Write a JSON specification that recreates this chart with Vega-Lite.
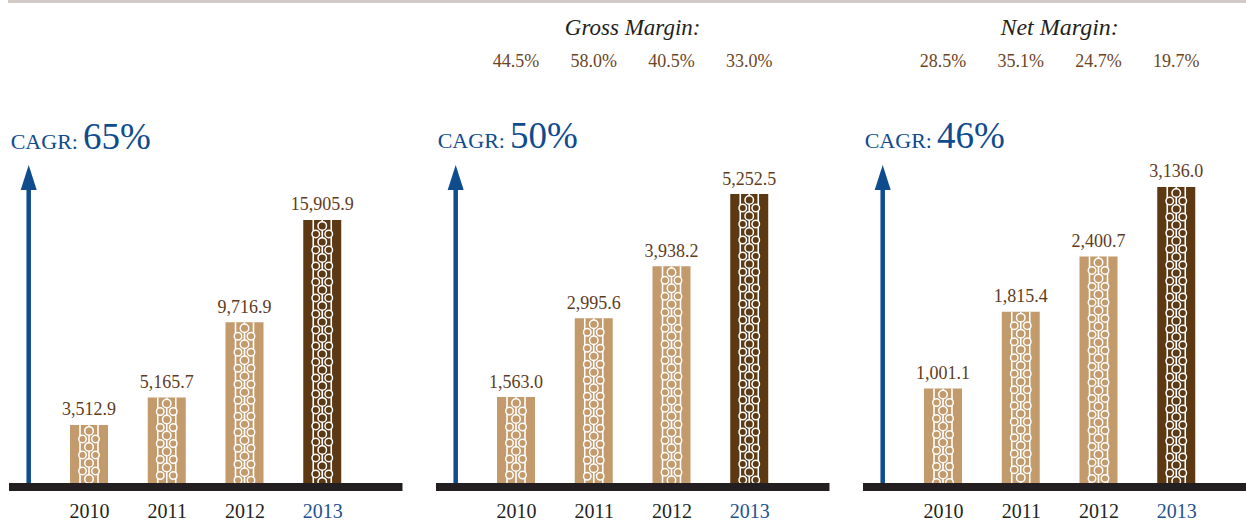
{
  "$schema": "https://vega.github.io/schema/vega-lite/v6.json",
  "padding": 0,
  "spacing": 0,
  "bounds": "flush",
  "datasets": {
    "fin": [
      {"year": 2010, "revenue": 3512.9, "gross": 1563.0, "net": 1001.1, "grossMargin": 0.445, "netMargin": 0.285},
      {"year": 2011, "revenue": 5165.7, "gross": 2995.6, "net": 1815.4, "grossMargin": 0.580, "netMargin": 0.351},
      {"year": 2012, "revenue": 9716.9, "gross": 3938.2, "net": 2400.7, "grossMargin": 0.405, "netMargin": 0.247},
      {"year": 2013, "revenue": 15905.9, "gross": 5252.5, "net": 3136.0, "grossMargin": 0.330, "netMargin": 0.197}
    ]
  },
  "hconcat": [
    {
      "width": 427,
      "height": 483,
      "data": {"name": "fin"},
      "layer": [
        {
          "mark": {"type": "bar", "size": 38},
          "encoding": {
            "x": {"field": "year", "type": "quantitative", "scale": {"domain": [2008.8553, 2014.3473], "nice": false, "zero": false, "padding": 0},
              "axis": {"values": [2010, 2011, 2012, 2013], "format": "d", "title": null, "domain": false, "ticks": false, "tickSize": 0, "grid": false, "labelFont": "Liberation Serif", "labelFontSize": 20, "labelPadding": 34, "labelBaseline": "alphabetic", "labelOverlap": false, "labelFlush": false,
                "labelColor": {"condition": {"test": "datum.value == 2013", "value": "#24528f"}, "value": "#231f20"}}},
            "y": {"field": "revenue", "type": "quantitative", "scale": {"domain": [0, 29200], "nice": false}, "axis": null},
            "color": {"field": "year", "type": "ordinal", "scale": {"domain": [2010, 2011, 2012, 2013], "range": ["#c29a6b", "#c29a6b", "#c29a6b", "#5c3813"]}, "legend": null}
          }
        },
        {"mark": {"type": "rule", "color": "white", "strokeWidth": 1.6, "xOffset": -9}, "encoding": {"x": {"field": "year", "type": "quantitative"}, "y": {"field": "revenue", "type": "quantitative"}, "y2": {"datum": 0}}},
        {"mark": {"type": "rule", "color": "white", "strokeWidth": 1.6, "xOffset": 9}, "encoding": {"x": {"field": "year", "type": "quantitative"}, "y": {"field": "revenue", "type": "quantitative"}, "y2": {"datum": 0}}},
        {"mark": {"type": "rule", "color": "white", "strokeWidth": 1.6}, "encoding": {"x": {"field": "year", "type": "quantitative"}, "y": {"field": "revenue", "type": "quantitative"}, "y2": {"datum": 0}}},
        {"mark": {"type": "rule", "color": "white", "strokeWidth": 10, "strokeCap": "round", "strokeDash": [0, 16], "strokeDashOffset": 10}, "encoding": {"x": {"field": "year", "type": "quantitative"}, "y": {"field": "revenue", "type": "quantitative"}, "y2": {"datum": 0}}},
        {"mark": {"type": "rule", "color": "white", "strokeWidth": 9, "strokeCap": "round", "strokeDash": [0, 16], "strokeDashOffset": 2, "xOffset": -6.5}, "encoding": {"x": {"field": "year", "type": "quantitative"}, "y": {"field": "revenue", "type": "quantitative"}, "y2": {"datum": 0}}},
        {"mark": {"type": "rule", "color": "white", "strokeWidth": 9, "strokeCap": "round", "strokeDash": [0, 16], "strokeDashOffset": 2, "xOffset": 6.5}, "encoding": {"x": {"field": "year", "type": "quantitative"}, "y": {"field": "revenue", "type": "quantitative"}, "y2": {"datum": 0}}},
        {"mark": {"type": "rule", "strokeWidth": 7, "strokeCap": "round", "strokeDash": [0, 16], "strokeDashOffset": 10}, "encoding": {"x": {"field": "year", "type": "quantitative"}, "y": {"field": "revenue", "type": "quantitative"}, "y2": {"datum": 0}, "color": {"field": "year", "type": "ordinal", "legend": null}}},
        {"mark": {"type": "rule", "strokeWidth": 6, "strokeCap": "round", "strokeDash": [0, 16], "strokeDashOffset": 2, "xOffset": -6.5}, "encoding": {"x": {"field": "year", "type": "quantitative"}, "y": {"field": "revenue", "type": "quantitative"}, "y2": {"datum": 0}, "color": {"field": "year", "type": "ordinal", "legend": null}}},
        {"mark": {"type": "rule", "strokeWidth": 6, "strokeCap": "round", "strokeDash": [0, 16], "strokeDashOffset": 2, "xOffset": 6.5}, "encoding": {"x": {"field": "year", "type": "quantitative"}, "y": {"field": "revenue", "type": "quantitative"}, "y2": {"datum": 0}, "color": {"field": "year", "type": "ordinal", "legend": null}}},
        {
          "mark": {"type": "text", "font": "Liberation Serif", "fontSize": 18, "color": "#5e3c1e", "baseline": "alphabetic", "dy": -9.5},
          "encoding": {"x": {"field": "year", "type": "quantitative"}, "y": {"field": "revenue", "type": "quantitative"}, "text": {"field": "revenue", "type": "quantitative", "format": ",.1f"}}
        },
        {
          "data": {"values": [{"x1": 2008.9582, "x2": 2014.3473, "y": 29200}]},
          "mark": {"type": "rule", "color": "#d1cac6", "strokeWidth": 3, "yOffset": 1.5},
          "encoding": {"x": {"field": "x1", "type": "quantitative"}, "x2": {"field": "x2"}, "y": {"field": "y", "type": "quantitative"}}
        },
        {
          "data": {"values": [{"x1": 2008.9711, "x2": 2014.0321, "y": 0}]},
          "mark": {"type": "rule", "color": "#231f20", "strokeWidth": 8, "yOffset": 4},
          "encoding": {"x": {"field": "x1", "type": "quantitative"}, "x2": {"field": "x2"}, "y": {"field": "y", "type": "quantitative"}}
        },
        {
          "data": {"values": [{"x": 2009.2244, "y1": 0, "y2": 18137}]},
          "mark": {"type": "rule", "color": "#0f4c8e", "strokeWidth": 4.5},
          "encoding": {"x": {"field": "x", "type": "quantitative"}, "y": {"field": "y1", "type": "quantitative"}, "y2": {"field": "y2"}}
        },
        {
          "data": {"values": [{"x": 2009.2244, "y": 18469}]},
          "mark": {"type": "point", "shape": "M0,-1L0.64,1L-0.64,1Z", "filled": true, "color": "#0f4c8e", "opacity": 1, "size": 625, "strokeWidth": 0},
          "encoding": {"x": {"field": "x", "type": "quantitative"}, "y": {"field": "y", "type": "quantitative"}}
        },
        {
          "data": {"values": [{"x": 2008.9929, "y": 20222, "label": "CAGR:"}]},
          "mark": {"type": "text", "font": "Liberation Serif", "fontSize": 22, "color": "#0f4c8e", "align": "left", "baseline": "alphabetic"},
          "encoding": {"x": {"field": "x", "type": "quantitative"}, "y": {"field": "y", "type": "quantitative"}, "text": {"field": "label"}}
        },
        {
          "data": {"values": [{"x": 2009.9228, "y": 20222, "label": "65%"}]},
          "mark": {"type": "text", "font": "Liberation Serif", "fontSize": 37, "color": "#0f4c8e", "align": "left", "baseline": "alphabetic"},
          "encoding": {"x": {"field": "x", "type": "quantitative"}, "y": {"field": "y", "type": "quantitative"}, "text": {"field": "label"}}
        }
      ]
    },
    {
      "width": 427,
      "height": 483,
      "data": {"name": "fin"},
      "layer": [
        {
          "mark": {"type": "bar", "size": 38},
          "encoding": {
            "x": {"field": "year", "type": "quantitative", "scale": {"domain": [2008.8553, 2014.3473], "nice": false, "zero": false, "padding": 0},
              "axis": {"values": [2010, 2011, 2012, 2013], "format": "d", "title": null, "domain": false, "ticks": false, "tickSize": 0, "grid": false, "labelFont": "Liberation Serif", "labelFontSize": 20, "labelPadding": 34, "labelBaseline": "alphabetic", "labelOverlap": false, "labelFlush": false,
                "labelColor": {"condition": {"test": "datum.value == 2013", "value": "#24528f"}, "value": "#231f20"}}},
            "y": {"field": "gross", "type": "quantitative", "scale": {"domain": [0, 8780], "nice": false}, "axis": null},
            "color": {"field": "year", "type": "ordinal", "scale": {"domain": [2010, 2011, 2012, 2013], "range": ["#c29a6b", "#c29a6b", "#c29a6b", "#5c3813"]}, "legend": null}
          }
        },
        {"mark": {"type": "rule", "color": "white", "strokeWidth": 1.6, "xOffset": -9}, "encoding": {"x": {"field": "year", "type": "quantitative"}, "y": {"field": "gross", "type": "quantitative"}, "y2": {"datum": 0}}},
        {"mark": {"type": "rule", "color": "white", "strokeWidth": 1.6, "xOffset": 9}, "encoding": {"x": {"field": "year", "type": "quantitative"}, "y": {"field": "gross", "type": "quantitative"}, "y2": {"datum": 0}}},
        {"mark": {"type": "rule", "color": "white", "strokeWidth": 1.6}, "encoding": {"x": {"field": "year", "type": "quantitative"}, "y": {"field": "gross", "type": "quantitative"}, "y2": {"datum": 0}}},
        {"mark": {"type": "rule", "color": "white", "strokeWidth": 10, "strokeCap": "round", "strokeDash": [0, 16], "strokeDashOffset": 10}, "encoding": {"x": {"field": "year", "type": "quantitative"}, "y": {"field": "gross", "type": "quantitative"}, "y2": {"datum": 0}}},
        {"mark": {"type": "rule", "color": "white", "strokeWidth": 9, "strokeCap": "round", "strokeDash": [0, 16], "strokeDashOffset": 2, "xOffset": -6.5}, "encoding": {"x": {"field": "year", "type": "quantitative"}, "y": {"field": "gross", "type": "quantitative"}, "y2": {"datum": 0}}},
        {"mark": {"type": "rule", "color": "white", "strokeWidth": 9, "strokeCap": "round", "strokeDash": [0, 16], "strokeDashOffset": 2, "xOffset": 6.5}, "encoding": {"x": {"field": "year", "type": "quantitative"}, "y": {"field": "gross", "type": "quantitative"}, "y2": {"datum": 0}}},
        {"mark": {"type": "rule", "strokeWidth": 7, "strokeCap": "round", "strokeDash": [0, 16], "strokeDashOffset": 10}, "encoding": {"x": {"field": "year", "type": "quantitative"}, "y": {"field": "gross", "type": "quantitative"}, "y2": {"datum": 0}, "color": {"field": "year", "type": "ordinal", "legend": null}}},
        {"mark": {"type": "rule", "strokeWidth": 6, "strokeCap": "round", "strokeDash": [0, 16], "strokeDashOffset": 2, "xOffset": -6.5}, "encoding": {"x": {"field": "year", "type": "quantitative"}, "y": {"field": "gross", "type": "quantitative"}, "y2": {"datum": 0}, "color": {"field": "year", "type": "ordinal", "legend": null}}},
        {"mark": {"type": "rule", "strokeWidth": 6, "strokeCap": "round", "strokeDash": [0, 16], "strokeDashOffset": 2, "xOffset": 6.5}, "encoding": {"x": {"field": "year", "type": "quantitative"}, "y": {"field": "gross", "type": "quantitative"}, "y2": {"datum": 0}, "color": {"field": "year", "type": "ordinal", "legend": null}}},
        {
          "mark": {"type": "text", "font": "Liberation Serif", "fontSize": 18, "color": "#5e3c1e", "baseline": "alphabetic", "dy": -9.5},
          "encoding": {"x": {"field": "year", "type": "quantitative"}, "y": {"field": "gross", "type": "quantitative"}, "text": {"field": "gross", "type": "quantitative", "format": ",.1f"}}
        },
        {
          "mark": {"type": "text", "font": "Liberation Serif", "fontSize": 18, "color": "#6b4426", "baseline": "alphabetic"},
          "encoding": {"x": {"field": "year", "type": "quantitative"}, "y": {"datum": 7553}, "text": {"field": "grossMargin", "type": "quantitative", "format": ".1%"}}
        },
        {
          "data": {"values": [{"x1": 2008.8553, "x2": 2014.3473, "y": 8780}]},
          "mark": {"type": "rule", "color": "#d1cac6", "strokeWidth": 3, "yOffset": 1.5},
          "encoding": {"x": {"field": "x1", "type": "quantitative"}, "x2": {"field": "x2"}, "y": {"field": "y", "type": "quantitative"}}
        },
        {
          "data": {"values": [{"x1": 2008.9711, "x2": 2014.0321, "y": 0}]},
          "mark": {"type": "rule", "color": "#231f20", "strokeWidth": 8, "yOffset": 4},
          "encoding": {"x": {"field": "x1", "type": "quantitative"}, "x2": {"field": "x2"}, "y": {"field": "y", "type": "quantitative"}}
        },
        {
          "data": {"values": [{"x": 2011.5, "y": 8135, "label": "Gross Margin:"}]},
          "mark": {"type": "text", "font": "Liberation Serif", "fontStyle": "italic", "fontSize": 23, "color": "#231f20", "baseline": "alphabetic"},
          "encoding": {"x": {"field": "x", "type": "quantitative"}, "y": {"field": "y", "type": "quantitative"}, "text": {"field": "label"}}
        },
        {
          "data": {"values": [{"x": 2009.2244, "y1": 0, "y2": 5453}]},
          "mark": {"type": "rule", "color": "#0f4c8e", "strokeWidth": 4.5},
          "encoding": {"x": {"field": "x", "type": "quantitative"}, "y": {"field": "y1", "type": "quantitative"}, "y2": {"field": "y2"}}
        },
        {
          "data": {"values": [{"x": 2009.2244, "y": 5553}]},
          "mark": {"type": "point", "shape": "M0,-1L0.64,1L-0.64,1Z", "filled": true, "color": "#0f4c8e", "opacity": 1, "size": 625, "strokeWidth": 0},
          "encoding": {"x": {"field": "x", "type": "quantitative"}, "y": {"field": "y", "type": "quantitative"}}
        },
        {
          "data": {"values": [{"x": 2008.9929, "y": 6081, "label": "CAGR:"}]},
          "mark": {"type": "text", "font": "Liberation Serif", "fontSize": 22, "color": "#0f4c8e", "align": "left", "baseline": "alphabetic"},
          "encoding": {"x": {"field": "x", "type": "quantitative"}, "y": {"field": "y", "type": "quantitative"}, "text": {"field": "label"}}
        },
        {
          "data": {"values": [{"x": 2009.9228, "y": 6081, "label": "50%"}]},
          "mark": {"type": "text", "font": "Liberation Serif", "fontSize": 37, "color": "#0f4c8e", "align": "left", "baseline": "alphabetic"},
          "encoding": {"x": {"field": "x", "type": "quantitative"}, "y": {"field": "y", "type": "quantitative"}, "text": {"field": "label"}}
        }
      ]
    },
    {
      "width": 392,
      "height": 483,
      "data": {"name": "fin"},
      "layer": [
        {
          "mark": {"type": "bar", "size": 38},
          "encoding": {
            "x": {"field": "year", "type": "quantitative", "scale": {"domain": [2008.8553, 2013.8971], "nice": false, "zero": false, "padding": 0},
              "axis": {"values": [2010, 2011, 2012, 2013], "format": "d", "title": null, "domain": false, "ticks": false, "tickSize": 0, "grid": false, "labelFont": "Liberation Serif", "labelFontSize": 20, "labelPadding": 34, "labelBaseline": "alphabetic", "labelOverlap": false, "labelFlush": false,
                "labelColor": {"condition": {"test": "datum.value == 2013", "value": "#24528f"}, "value": "#231f20"}}},
            "y": {"field": "net", "type": "quantitative", "scale": {"domain": [0, 5117], "nice": false}, "axis": null},
            "color": {"field": "year", "type": "ordinal", "scale": {"domain": [2010, 2011, 2012, 2013], "range": ["#c29a6b", "#c29a6b", "#c29a6b", "#5c3813"]}, "legend": null}
          }
        },
        {"mark": {"type": "rule", "color": "white", "strokeWidth": 1.6, "xOffset": -9}, "encoding": {"x": {"field": "year", "type": "quantitative"}, "y": {"field": "net", "type": "quantitative"}, "y2": {"datum": 0}}},
        {"mark": {"type": "rule", "color": "white", "strokeWidth": 1.6, "xOffset": 9}, "encoding": {"x": {"field": "year", "type": "quantitative"}, "y": {"field": "net", "type": "quantitative"}, "y2": {"datum": 0}}},
        {"mark": {"type": "rule", "color": "white", "strokeWidth": 1.6}, "encoding": {"x": {"field": "year", "type": "quantitative"}, "y": {"field": "net", "type": "quantitative"}, "y2": {"datum": 0}}},
        {"mark": {"type": "rule", "color": "white", "strokeWidth": 10, "strokeCap": "round", "strokeDash": [0, 16], "strokeDashOffset": 10}, "encoding": {"x": {"field": "year", "type": "quantitative"}, "y": {"field": "net", "type": "quantitative"}, "y2": {"datum": 0}}},
        {"mark": {"type": "rule", "color": "white", "strokeWidth": 9, "strokeCap": "round", "strokeDash": [0, 16], "strokeDashOffset": 2, "xOffset": -6.5}, "encoding": {"x": {"field": "year", "type": "quantitative"}, "y": {"field": "net", "type": "quantitative"}, "y2": {"datum": 0}}},
        {"mark": {"type": "rule", "color": "white", "strokeWidth": 9, "strokeCap": "round", "strokeDash": [0, 16], "strokeDashOffset": 2, "xOffset": 6.5}, "encoding": {"x": {"field": "year", "type": "quantitative"}, "y": {"field": "net", "type": "quantitative"}, "y2": {"datum": 0}}},
        {"mark": {"type": "rule", "strokeWidth": 7, "strokeCap": "round", "strokeDash": [0, 16], "strokeDashOffset": 10}, "encoding": {"x": {"field": "year", "type": "quantitative"}, "y": {"field": "net", "type": "quantitative"}, "y2": {"datum": 0}, "color": {"field": "year", "type": "ordinal", "legend": null}}},
        {"mark": {"type": "rule", "strokeWidth": 6, "strokeCap": "round", "strokeDash": [0, 16], "strokeDashOffset": 2, "xOffset": -6.5}, "encoding": {"x": {"field": "year", "type": "quantitative"}, "y": {"field": "net", "type": "quantitative"}, "y2": {"datum": 0}, "color": {"field": "year", "type": "ordinal", "legend": null}}},
        {"mark": {"type": "rule", "strokeWidth": 6, "strokeCap": "round", "strokeDash": [0, 16], "strokeDashOffset": 2, "xOffset": 6.5}, "encoding": {"x": {"field": "year", "type": "quantitative"}, "y": {"field": "net", "type": "quantitative"}, "y2": {"datum": 0}, "color": {"field": "year", "type": "ordinal", "legend": null}}},
        {
          "mark": {"type": "text", "font": "Liberation Serif", "fontSize": 18, "color": "#5e3c1e", "baseline": "alphabetic", "dy": -9.5},
          "encoding": {"x": {"field": "year", "type": "quantitative"}, "y": {"field": "net", "type": "quantitative"}, "text": {"field": "net", "type": "quantitative", "format": ",.1f"}}
        },
        {
          "mark": {"type": "text", "font": "Liberation Serif", "fontSize": 18, "color": "#6b4426", "baseline": "alphabetic"},
          "encoding": {"x": {"field": "year", "type": "quantitative"}, "y": {"datum": 4402}, "text": {"field": "netMargin", "type": "quantitative", "format": ".1%"}}
        },
        {
          "data": {"values": [{"x1": 2008.8553, "x2": 2013.8971, "y": 5117}]},
          "mark": {"type": "rule", "color": "#d1cac6", "strokeWidth": 3, "yOffset": 1.5},
          "encoding": {"x": {"field": "x1", "type": "quantitative"}, "x2": {"field": "x2"}, "y": {"field": "y", "type": "quantitative"}}
        },
        {
          "data": {"values": [{"x1": 2008.9711, "x2": 2013.8971, "y": 0}]},
          "mark": {"type": "rule", "color": "#231f20", "strokeWidth": 8, "yOffset": 4},
          "encoding": {"x": {"field": "x1", "type": "quantitative"}, "x2": {"field": "x2"}, "y": {"field": "y", "type": "quantitative"}}
        },
        {
          "data": {"values": [{"x": 2011.5, "y": 4741, "label": "Net Margin:"}]},
          "mark": {"type": "text", "font": "Liberation Serif", "fontStyle": "italic", "fontSize": 24, "color": "#231f20", "baseline": "alphabetic"},
          "encoding": {"x": {"field": "x", "type": "quantitative"}, "y": {"field": "y", "type": "quantitative"}, "text": {"field": "label"}}
        },
        {
          "data": {"values": [{"x": 2009.2244, "y1": 0, "y2": 3178}]},
          "mark": {"type": "rule", "color": "#0f4c8e", "strokeWidth": 4.5},
          "encoding": {"x": {"field": "x", "type": "quantitative"}, "y": {"field": "y1", "type": "quantitative"}, "y2": {"field": "y2"}}
        },
        {
          "data": {"values": [{"x": 2009.2244, "y": 3237}]},
          "mark": {"type": "point", "shape": "M0,-1L0.64,1L-0.64,1Z", "filled": true, "color": "#0f4c8e", "opacity": 1, "size": 625, "strokeWidth": 0},
          "encoding": {"x": {"field": "x", "type": "quantitative"}, "y": {"field": "y", "type": "quantitative"}}
        },
        {
          "data": {"values": [{"x": 2008.9929, "y": 3544, "label": "CAGR:"}]},
          "mark": {"type": "text", "font": "Liberation Serif", "fontSize": 22, "color": "#0f4c8e", "align": "left", "baseline": "alphabetic"},
          "encoding": {"x": {"field": "x", "type": "quantitative"}, "y": {"field": "y", "type": "quantitative"}, "text": {"field": "label"}}
        },
        {
          "data": {"values": [{"x": 2009.9228, "y": 3544, "label": "46%"}]},
          "mark": {"type": "text", "font": "Liberation Serif", "fontSize": 37, "color": "#0f4c8e", "align": "left", "baseline": "alphabetic"},
          "encoding": {"x": {"field": "x", "type": "quantitative"}, "y": {"field": "y", "type": "quantitative"}, "text": {"field": "label"}}
        }
      ]
    }
  ],
  "config": {
    "view": {"stroke": null},
    "font": "Liberation Serif"
  }
}
